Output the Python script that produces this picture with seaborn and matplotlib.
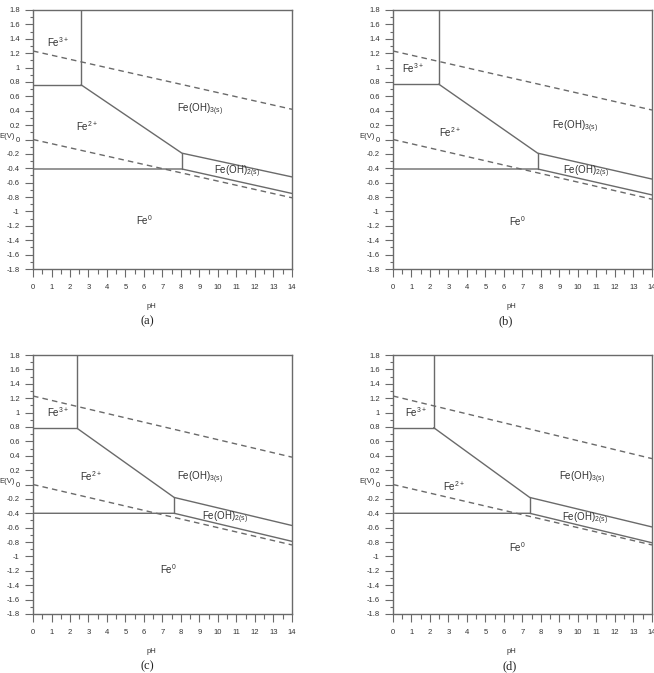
import numpy as np
import pandas as pd
import matplotlib
matplotlib.use("Agg")
import matplotlib.pyplot as plt
import seaborn as sns
from matplotlib.ticker import MultipleLocator, FuncFormatter

# ---- data (one value per panel a, b, c, d) ----
panels = ["(a)", "(b)", "(c)", "(d)"]
fe3_fe2_E = [0.76, 0.77, 0.78, 0.79]        # Fe3+/Fe2+ horizontal boundary (V)
fe3_oh3_pH = [2.60, 2.47, 2.39, 2.20]       # Fe3+/Fe(OH)3 vertical boundary (pH)
fe2_fe_E = [-0.41, -0.41, -0.40, -0.40]     # Fe2+/Fe horizontal boundary (V)
fe2_oh2_pH = [8.05, 7.82, 7.63, 7.39]       # Fe2+/Fe(OH)2 vertical boundary (pH)
triple_E = [-0.19, -0.19, -0.18, -0.18]     # Fe2+/Fe(OH)3/Fe(OH)2 point (V)
oh3_oh2_E14 = [-0.52, -0.55, -0.57, -0.59]  # Fe(OH)3/Fe(OH)2 at pH 14
oh2_fe_E14 = [-0.75, -0.77, -0.79, -0.81]   # Fe(OH)2/Fe at pH 14
o2_E0 = [1.23, 1.23, 1.23, 1.23]
o2_E14 = [0.42, 0.41, 0.38, 0.36]
h2_E0 = [0.0, 0.0, 0.0, 0.0]
h2_E14 = [-0.81, -0.83, -0.84, -0.84]

species = ["Fe$^{3+}$", "Fe$^{2+}$", "Fe(OH)$_{3(s)}$", "Fe(OH)$_{2(s)}$", "Fe$^{0}$"]
label_pH = [[1.35, 2.9, 9.0, 11.0, 6.0],
            [1.1, 3.1, 9.85, 10.45, 6.75],
            [1.35, 3.15, 9.05, 10.4, 7.3],
            [1.25, 3.3, 10.2, 10.4, 6.75]]
label_E = [[1.35, 0.18, 0.41, -0.45, -1.12],
           [0.99, 0.10, 0.18, -0.45, -1.14],
           [1.00, 0.12, 0.09, -0.46, -1.18],
           [1.00, -0.02, 0.10, -0.48, -0.87]]

pH_min, pH_max = 0, 14
E_min, E_max = -1.8, 1.8

sns.set_theme(style="ticks")
plt.rcParams["font.family"] = ["Liberation Sans", "DejaVu Sans"]
plt.rcParams["mathtext.fontset"] = "custom"
plt.rcParams["mathtext.rm"] = "Liberation Sans"
plt.rcParams["mathtext.it"] = "Liberation Sans"
plt.rcParams["mathtext.bf"] = "Liberation Sans"

W, H = 654, 673
fig = plt.figure(figsize=(W / 100, H / 100), dpi=100)
boxes = [(33, 10), (393, 10), (33, 355), (393, 355)]
aw, ah = 259, 259
caption_x = [0.44, 0.436, 0.44, 0.45]

line_c = "#6a6a6a"
axis_c = "#6a6a6a"
text_c = "#333333"

fmt = FuncFormatter(lambda v, p: f"{round(v, 2):g}" if abs(v) > 1e-9 else "0")

for i in range(4):
    x0, y0 = boxes[i]
    ax = fig.add_axes([x0 / W, 1 - (y0 + ah) / H, aw / W, ah / H])

    segs = [
        ([pH_min, fe3_oh3_pH[i], fe3_oh3_pH[i]], [fe3_fe2_E[i], fe3_fe2_E[i], E_max], "-"),
        ([fe3_oh3_pH[i], fe2_oh2_pH[i], pH_max], [fe3_fe2_E[i], triple_E[i], oh3_oh2_E14[i]], "-"),
        ([pH_min, fe2_oh2_pH[i], pH_max], [fe2_fe_E[i], fe2_fe_E[i], oh2_fe_E14[i]], "-"),
        ([fe2_oh2_pH[i], fe2_oh2_pH[i]], [triple_E[i], fe2_fe_E[i]], "-"),
        ([pH_min, pH_max], [o2_E0[i], o2_E14[i]], "--"),
        ([pH_min, pH_max], [h2_E0[i], h2_E14[i]], "--"),
    ]
    for xs, ys, ls in segs:
        df = pd.DataFrame({"pH": xs, "E": ys})
        sns.lineplot(data=df, x="pH", y="E", sort=False, estimator=None,
                     color=line_c, lw=1.0, ax=ax)
        ln = ax.lines[-1]
        if ls == "--":
            ln.set_dashes((4, 3))

    for name, px, pe in zip(species, label_pH[i], label_E[i]):
        ax.text(px, pe, name, ha="center", va="center", fontsize=7, color=text_c)

    ax.set_xlim(pH_min, pH_max)
    ax.set_ylim(E_min, E_max)
    ax.xaxis.set_major_locator(MultipleLocator(1))
    ax.xaxis.set_minor_locator(MultipleLocator(0.5))
    ax.yaxis.set_major_locator(MultipleLocator(0.2))
    ax.yaxis.set_minor_locator(MultipleLocator(0.1))
    ax.xaxis.set_major_formatter(fmt)
    ax.yaxis.set_major_formatter(fmt)
    ax.tick_params(axis="x", which="major", length=5.5, width=0.8, pad=5, labelsize=5.5, colors=axis_c, labelcolor=text_c)
    ax.tick_params(axis="x", which="minor", length=3.5, width=0.8, colors=axis_c)
    ax.tick_params(axis="y", which="major", length=5.5, width=0.8, pad=4, labelsize=5.5, colors=axis_c, labelcolor=text_c)
    ax.tick_params(axis="y", which="minor", length=2.5, width=0.8, colors=axis_c)
    for s in ax.spines.values():
        s.set_color(axis_c)
        s.set_linewidth(1.0)

    ax.set_xlabel("pH", fontsize=5.5, color=text_c)
    ax.xaxis.set_label_coords(0.458, -0.131)
    ax.set_ylabel("E(V)", fontsize=5.5, color=text_c, rotation=0, ha="center", va="center")
    ax.yaxis.set_label_coords(-0.1, 0.51)

    ax.text(caption_x[i], -0.2, panels[i], transform=ax.transAxes, ha="center", va="center",
            fontsize=9, family="Liberation Serif", color="#222222")

fig.savefig("out.png", dpi=100)
